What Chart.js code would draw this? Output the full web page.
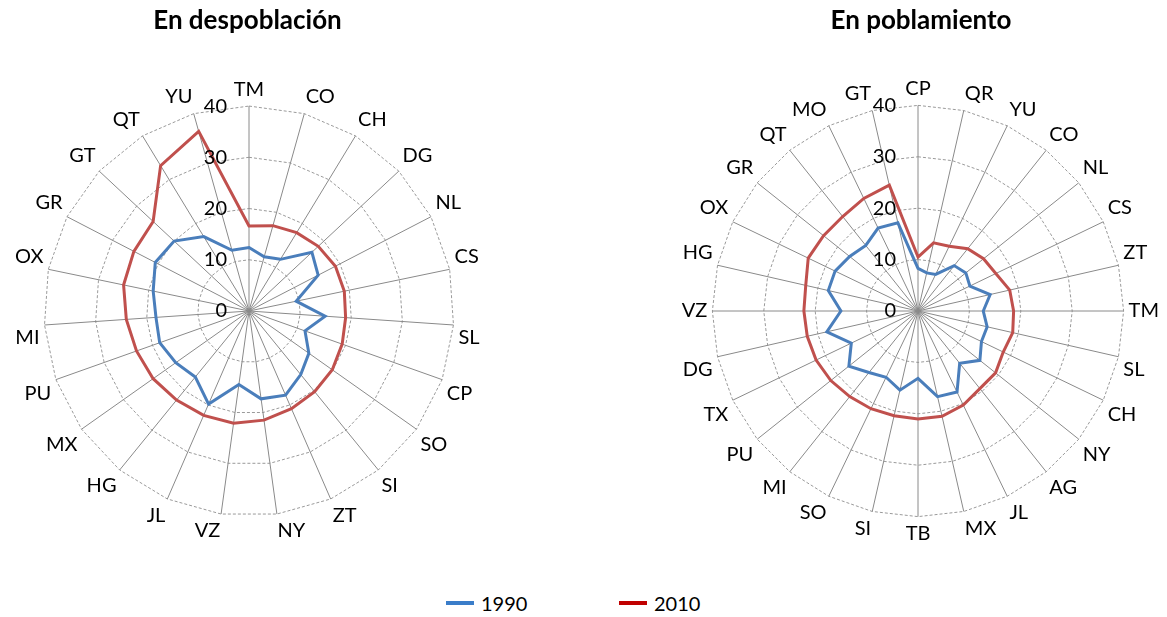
<!DOCTYPE html>
<html>
<head>
<meta charset="utf-8">
<script src="https://cdn.jsdelivr.net/npm/chart.js@4.4.1/dist/chart.umd.min.js"></script>
<style>
  body { margin: 0; width: 1167px; height: 617px; background: #fff; position: relative; overflow: hidden; font-family: Lato, sans-serif; }
  .box { position: absolute; top: 0; height: 560px; }
  #left-box { left: 0; width: 500px; }
  #right-box { left: 680px; width: 487px; }
  .legend { position: absolute; top: 591px; font-size: 20px; color: #000; display: flex; align-items: center; }
  .legend span.swatch { display: inline-block; width: 28px; height: 4px; margin-right: 7px; }
</style>
</head>
<body>
<div class="box" id="left-box"><canvas id="despoblacion-chart"></canvas></div>
<div class="box" id="right-box"><canvas id="poblamiento-chart"></canvas></div>
<div class="legend" style="left:446px"><span class="swatch" style="background:#3A7DC9"></span>1990</div>
<div class="legend" style="left:619px"><span class="swatch" style="background:#C00000"></span>2010</div>
<script>
// En despoblación
const despLabels = ['TM', 'CO', 'CH', 'DG', 'NL', 'CS', 'SL', 'CP', 'SO', 'SI', 'ZT', 'NY', 'VZ', 'JL', 'HG', 'MX', 'PU', 'MI', 'OX', 'GR', 'GT', 'QT', 'YU'];
const desp1990 = [12.4, 11.0, 11.8, 16.8, 15.2, 9.4, 14.9, 11.6, 14.3, 16.0, 17.9, 17.3, 14.5, 19.8, 16.6, 17.5, 18.5, 18.2, 19.1, 20.6, 20.0, 17.0, 12.3];
const desp2010 = [16.6, 17.3, 17.9, 18.5, 19.0, 19.0, 18.9, 19.3, 19.9, 20.3, 20.8, 21.5, 22.1, 22.2, 22.4, 22.9, 23.3, 24.0, 25.0, 25.3, 25.6, 33.2, 36.4];

// En poblamiento
const poblLabels = ['CP', 'QR', 'YU', 'CO', 'NL', 'CS', 'ZT', 'TM', 'SL', 'CH', 'NY', 'AG', 'JL', 'MX', 'TB', 'SI', 'SO', 'MI', 'PU', 'TX', 'DG', 'VZ', 'HG', 'OX', 'GR', 'QT', 'MO', 'GT'];
const pobl1990 = [8.3, 7.6, 7.9, 11.3, 11.9, 11.2, 14.4, 12.7, 13.8, 13.7, 15.4, 13.0, 17.5, 17.1, 13.1, 15.8, 14.3, 15.3, 17.2, 14.4, 18.2, 15.0, 17.9, 17.9, 17.0, 16.3, 17.9, 17.6];
const pobl2010 = [10.5, 13.6, 14.0, 15.5, 16.3, 16.8, 18.3, 18.6, 18.9, 18.4, 19.3, 19.3, 20.3, 21.0, 21.0, 20.9, 21.1, 21.3, 21.7, 22.0, 22.1, 22.2, 22.4, 23.7, 23.5, 23.5, 24.3, 25.1];

const seriesNames = ['1990', '2010'];
const axisTicks = [0, 10, 20, 30, 40];

Chart.defaults.font.family = 'Lato, sans-serif';
Chart.defaults.color = '#000';

// tick labels sit left of the vertical axis, like in Excel
const tickLabelPlugin = {
    id: 'tickLabels',
    afterDatasetsDraw(chart) {
        const r = chart.scales.r;
        const ctx = chart.ctx;
        ctx.save();
        ctx.font = '20px Lato, sans-serif';
        ctx.fillStyle = '#000';
        ctx.textAlign = 'right';
        ctx.textBaseline = 'middle';
        axisTicks.forEach(v => {
            ctx.fillText(String(v), r.xCenter - 22, r.yCenter - r.getDistanceFromCenterForValue(v));
        });
        ctx.restore();
    }
};

function radarOptions(title, padding, titlePad) {
    return {
        responsive: true,
        maintainAspectRatio: false,
        animation: false,
        layout: { padding: padding },
        plugins: {
            legend: { display: false },
            tooltip: { enabled: false },
            title: {
                display: true,
                text: title,
                font: { size: 26, weight: 'bold' },
                color: '#000',
                padding: titlePad
            }
        },
        scales: {
            r: {
                min: 0,
                max: 40,
                ticks: { stepSize: 10, display: false },
                grid: { color: '#9a9a9a', lineWidth: 1, borderDash: [3, 2] },
                border: { dash: [3, 2] },
                angleLines: { color: '#8a8a8a', lineWidth: 1 },
                pointLabels: { font: { size: 20 }, color: '#000', padding: 5 }
            }
        }
    };
}

function makeDatasets(a, b) {
    return [
        { label: seriesNames[0], data: a, borderColor: '#4A7EBB', borderWidth: 3, pointRadius: 0, fill: false },
        { label: seriesNames[1], data: b, borderColor: '#C0504D', borderWidth: 3, pointRadius: 0, fill: false }
    ];
}

new Chart(document.getElementById('despoblacion-chart'), {
    type: 'radar',
    data: { labels: despLabels, datasets: makeDatasets(desp1990, desp2010) },
    options: radarOptions('En despoblación', { left: 13, right: 18, bottom: 15 }, { top: 5, bottom: 39 }),
    plugins: [tickLabelPlugin]
});

new Chart(document.getElementById('poblamiento-chart'), {
    type: 'radar',
    data: { labels: poblLabels, datasets: makeDatasets(pobl1990, pobl2010) },
    options: radarOptions('En poblamiento', { left: 0, right: 5, bottom: 12 }, { top: 5, bottom: 39 }),
    plugins: [tickLabelPlugin]
});
</script>
</body>
</html>
